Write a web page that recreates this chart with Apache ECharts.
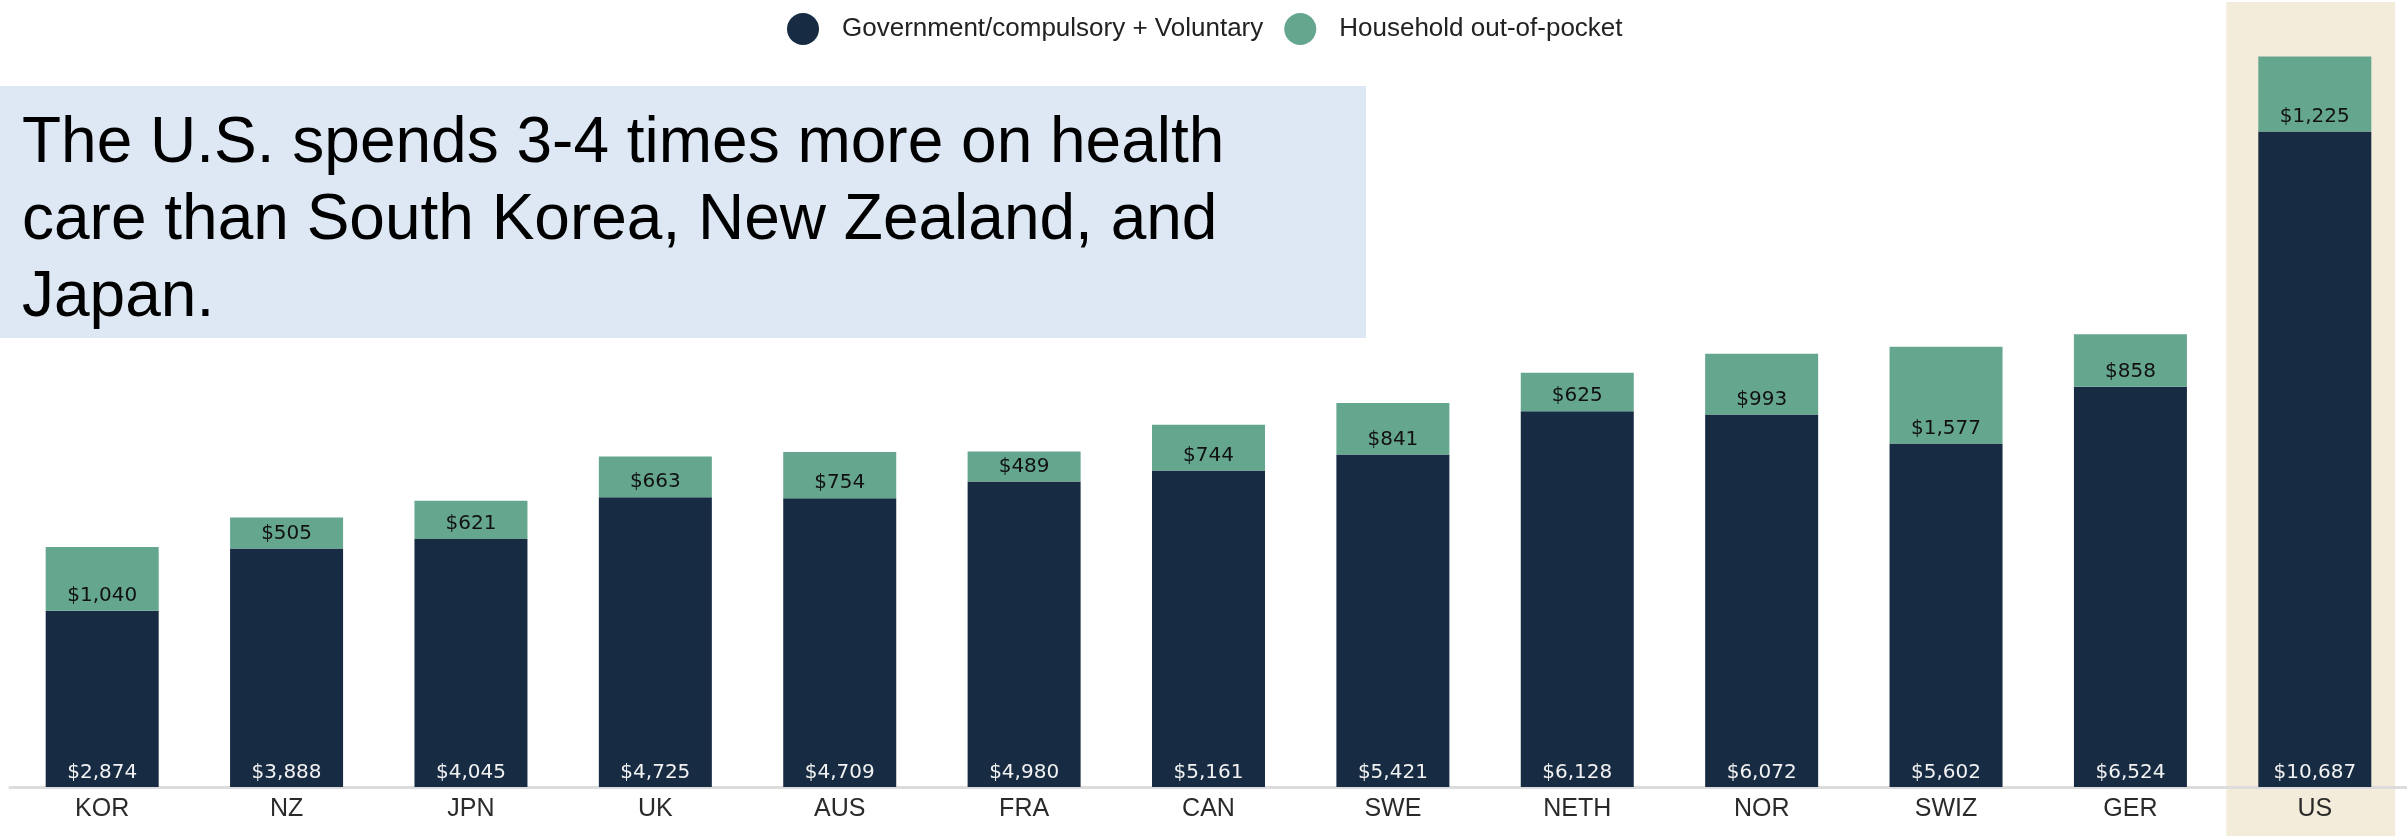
<!DOCTYPE html>
<html>
<head>
<meta charset="utf-8">
<script src="https://cdn.jsdelivr.net/npm/echarts@6/dist/echarts.min.js"></script>
<style>
html,body{margin:0;padding:0;background:#fff;}
#chart{width:2407px;height:836px;}
</style>
</head>
<body>
<div id="chart"></div>
<script>
const categories = ['KOR','NZ','JPN','UK','AUS','FRA','CAN','SWE','NETH','NOR','SWIZ','GER','US'];
const govVoluntary = [2874,3888,4045,4725,4709,4980,5161,5421,6128,6072,5602,6524,10687];
const outOfPocket = [1040,505,621,663,754,489,744,841,625,993,1577,858,1225];
const seriesNames = ['Government/compulsory + Voluntary','Household out-of-pocket'];
const highlightCategory = 'US';
const noteLines = ['The U.S. spends 3-4 times more on health','care than South Korea, New Zealand, and','Japan.'];

const fmt = v => '$' + v.toLocaleString('en-US');
const chart = echarts.init(document.getElementById('chart'), null, {renderer:'canvas'});

const option = {
  animation: false,
  backgroundColor: '#ffffff',
  legend: {
    left: 787, top: 13, padding: 0,
    icon: 'circle',
    itemWidth: 32, itemHeight: 32, itemGap: 21,
    textStyle: {fontFamily: 'Liberation Sans, Arial, sans-serif', fontSize: 26, color: '#222',
      padding: [0, 0, 0, 18]},
    data: seriesNames
  },
  grid: {left: 10, width: 2400, top: 51, bottom: 49, containLabel: false},
  xAxis: {
    type: 'category',
    data: categories,
    axisLine: {show: true, lineStyle: {color: '#dcdcdc', width: 3}},
    axisTick: {show: false},
    axisLabel: {fontFamily: 'Liberation Sans, Arial, sans-serif', fontSize: 25, color: '#2a2a2a', margin: 10}
  },
  yAxis: {type: 'value', min: 0, max: 12000, show: false, splitLine: {show: false}},
  series: [
    {
      name: seriesNames[0], type: 'bar', stack: 'total', barWidth: 113,
      itemStyle: {color: '#172b43'},
      label: {show: true, position: 'insideBottom', distance: 4, color: '#f2f2f2',
        fontFamily: 'DejaVu Sans, sans-serif', fontSize: 20,
        formatter: p => fmt(p.value)},
      data: govVoluntary
    },
    {
      name: seriesNames[1], type: 'bar', stack: 'total', barWidth: 113,
      itemStyle: {color: '#65a68f'},
      label: {show: true, position: 'insideBottom', distance: 5, color: '#111',
        fontFamily: 'DejaVu Sans, sans-serif', fontSize: 20,
        formatter: p => fmt(p.value)},
      data: outOfPocket
    }
  ]
};
chart.setOption(option);

const pUS = chart.convertToPixel({xAxisIndex: 0}, highlightCategory);
const idx = categories.indexOf(highlightCategory);
const pPrev = chart.convertToPixel({xAxisIndex: 0}, categories[idx - 1]);
const step = pUS - pPrev;
const bandLeft = pUS - 0.48 * step;
const bandRight = pUS + 0.436 * step;

chart.setOption({
  graphic: [
    {type: 'rect', z: -1, silent: true,
      shape: {x: bandLeft, y: 2, width: bandRight - bandLeft, height: 836},
      style: {fill: '#f4ecdb'}},
    {type: 'rect', z: 100, silent: true,
      shape: {x: 0, y: 86, width: 1366, height: 252},
      style: {fill: '#dde8f4'}},
    {type: 'text', z: 101, silent: true, x: 22, y: 106,
      style: {text: noteLines.join('\n'), fill: '#000',
        font: '64px "Liberation Sans", Arial, sans-serif',
        lineHeight: 77, verticalAlign: 'top', align: 'left'}}
  ]
});
</script>
</body>
</html>
